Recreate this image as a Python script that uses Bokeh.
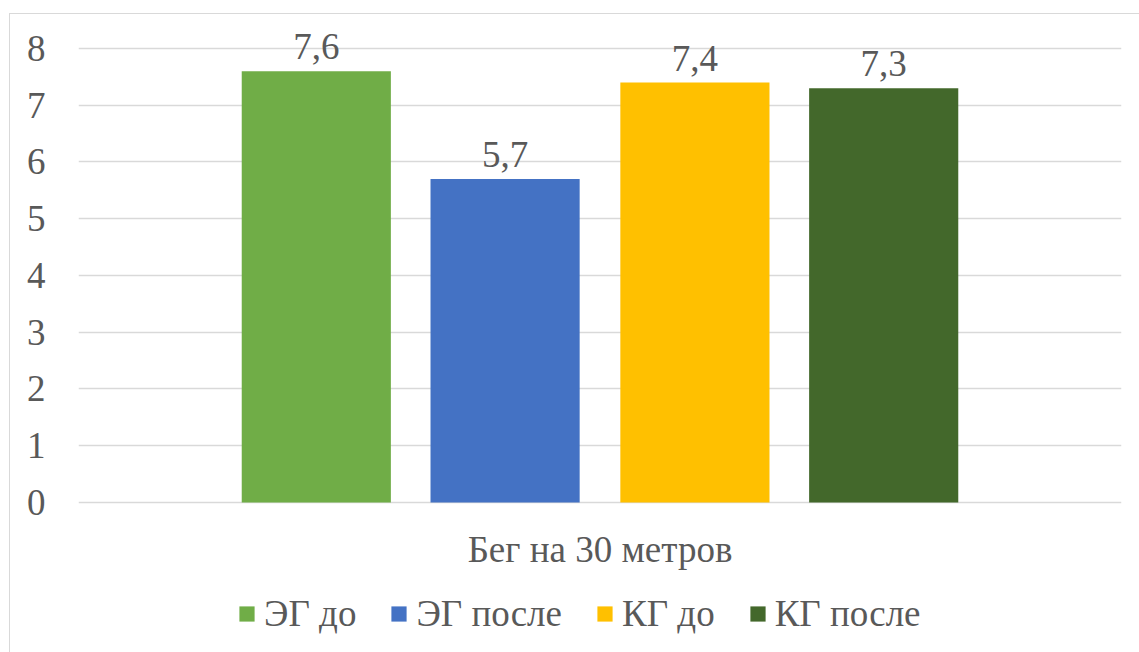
from bokeh.plotting import figure
from bokeh.models import (FactorRange, Range1d, ColumnDataSource, Legend, LegendItem,
                          FixedTicker, InlineStyleSheet)
from bokeh.transform import dodge
from bokeh.core.properties import value
from bokeh.embed import file_html
from bokeh.resources import INLINE

category = "Бег на 30 метров"
series = ["ЭГ до", "ЭГ после", "КГ до", "КГ после"]
values = [7.6, 5.7, 7.4, 7.3]
labels = [f"{v:.1f}".replace(".", ",") for v in values]
colors = ["#70AD47", "#4472C4", "#FFC000", "#43682B"]
y_ticks = [0, 1, 2, 3, 4, 5, 6, 7, 8]

offsets = [-0.272, -0.091, 0.091, 0.272]
bar_width = 0.143
FONT = "'Liberation Serif', 'Times New Roman', serif"
FS = "37px"
TXT = "#595959"

# frame extends below the zero line to hold the category label and legend
p = figure(x_range=FactorRange(factors=[category], range_padding=0),
           y_range=Range1d(-2.643, 8.546),
           width=1129, height=638, output_backend="svg", toolbar_location=None,
           min_border_left=68, min_border_right=18, min_border_top=3, min_border_bottom=0)
p.margin = (14, 0, 0, 10)
p.stylesheets = [InlineStyleSheet(css=":host { outline: 1px solid #d9d9d9; }")]
p.outline_line_color = None
p.background_fill_color = "white"
p.border_fill_color = "white"

p.xgrid.grid_line_color = None
p.ygrid.grid_line_color = "#d9d9d9"
p.ygrid.grid_line_width = 1.5
p.yaxis.ticker = FixedTicker(ticks=y_ticks)
p.xaxis.visible = False

ax = p.yaxis[0]
ax.axis_line_color = None
ax.major_tick_line_color = None
ax.minor_tick_line_color = None
ax.major_label_text_font = FONT
ax.major_label_text_font_size = FS
ax.major_label_text_color = TXT
ax.major_label_standoff = 27

cat_src = ColumnDataSource(dict(x=[category], y=[0], label=[category]))
p.text(x="x", y="y", text="label", source=cat_src, text_font=value(FONT),
       text_font_size=FS, text_color=TXT, text_align="center",
       text_baseline="middle", y_offset=47)

items = []
for i, s in enumerate(series):
    src = ColumnDataSource(dict(x=[category], top=[values[i]], label=[labels[i]]))
    r = p.vbar(x=dodge("x", offsets[i], range=p.x_range), top="top", width=bar_width,
               fill_color=colors[i], line_color=None, source=src)
    p.text(x=dodge("x", offsets[i], range=p.x_range), y="top", text="label", source=src,
           text_font=value(FONT), text_font_size=FS, text_color=TXT,
           text_align="center", text_baseline="bottom", y_offset=-12)
    items.append(LegendItem(label=s, renderers=[r]))

legend = Legend(items=items, orientation="horizontal", location=(159, 17),
                label_text_font=FONT, label_text_font_size=FS, label_text_color=TXT,
                glyph_width=19, glyph_height=19, label_standoff=8, spacing=33,
                border_line_color=None, background_fill_alpha=0, margin=0, padding=0)
p.add_layout(legend, "center")

open("out.html", "w").write(file_html(p, INLINE))
